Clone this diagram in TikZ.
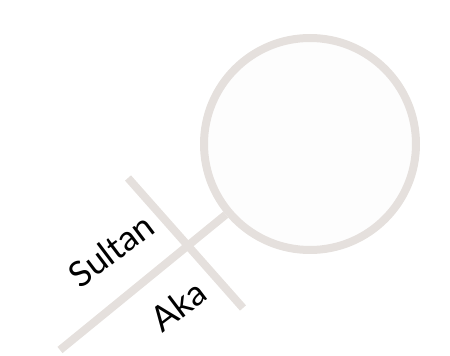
\documentclass[tikz,border=0pt]{standalone}
\usepackage{fontspec}
\setmainfont{Lato}
\usepackage{xcolor}
\definecolor{pale}{HTML}{E5E0DD}
\definecolor{glass}{HTML}{FDFDFD}
\usepackage{tikz}

\begin{document}
\begin{tikzpicture}[x=1pt,y=1pt,font=\fontsize{35}{38}\selectfont]
  \useasboundingbox (0,0) rectangle (450,356);
  \tikzset{bar/.style={draw=pale,line width=8pt},
    word/.style={rotate=37,inner sep=0pt}}
  \node[circle,draw=pale,fill=glass,line width=8pt,minimum size=212pt,inner sep=0pt] (lens) at (310,212) {};
  \coordinate (tip) at (60,6);
  \coordinate (crossA) at (128,178);
  \coordinate (crossB) at (243,48);
  \draw[bar] (lens.220) -- (tip);
  \draw[bar] (crossA) -- (crossB);
  \node[word] (sultan) at (111,106) {Sultan};
  \node[word] (aka) at (178,50) {Aka};
\end{tikzpicture}
\end{document}
